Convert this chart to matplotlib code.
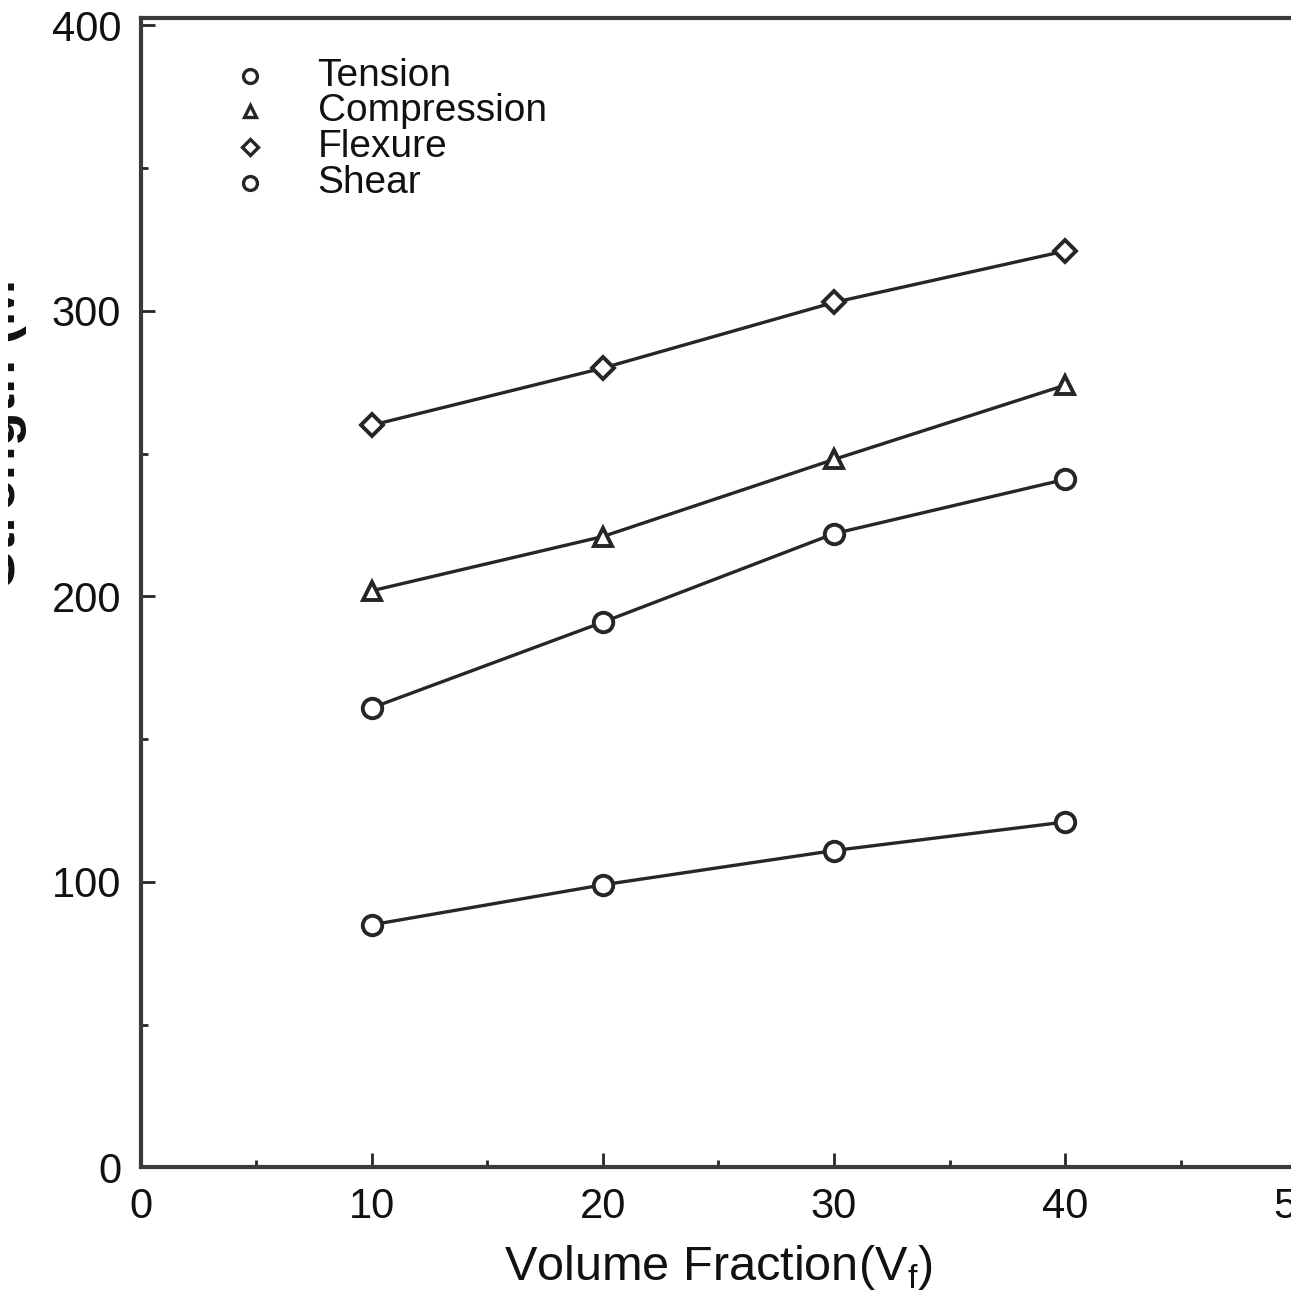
import matplotlib
matplotlib.use('Agg')
import matplotlib.pyplot as plt
from matplotlib.transforms import Bbox, TransformedBbox
from matplotlib.ticker import MultipleLocator

# data
vf = [10, 20, 30, 40]
tension = [161, 191, 222, 241]
compression = [202, 221, 248, 274]
flexure = [260, 280, 303, 321]
shear = [85, 99, 111, 121]

names = ['Tension', 'Compression', 'Flexure', 'Shear']
markers = ['o', '^', 'D', 'o']

ink = '#262626'
txt = '#111111'
plt.rcParams['font.family'] = ['Liberation Sans', 'DejaVu Sans']

W, H = 1291, 1290
fig = plt.figure(figsize=(W / 100, H / 100), dpi=100)
ax = fig.add_axes([0.109, 0.095, 0.895, 0.891])

for ys, m in zip([tension, compression, flexure, shear], markers):
    ms = {'o': 14, '^': 13, 'D': 11}[m]
    ax.plot(vf, ys, color=ink, lw=2.4, marker=m, ms=ms, mfc='white',
            mec=ink, mew=2.8)

ax.set_xlim(0, 50)
ax.set_ylim(0, 402.6)
ax.xaxis.set_major_locator(MultipleLocator(10))
ax.xaxis.set_minor_locator(MultipleLocator(5))
ax.yaxis.set_major_locator(MultipleLocator(100))
ax.yaxis.set_minor_locator(MultipleLocator(50))
ax.tick_params(which='major', direction='in', length=10, width=2, color=ink,
               labelsize=30, labelcolor=txt, pad=14)
ax.tick_params(which='minor', direction='in', length=5, width=2, color=ink)
for s in ax.spines.values():
    s.set_color('#3a3a3a')
    s.set_linewidth(3)

ax.set_xlabel('Volume Fraction(V$_\\mathregular{f}$)', fontsize=35, color=txt)
ax.xaxis.set_label_coords(0.5, -0.066)

# legend: markers only, no frame, rows placed in axes fraction
for i, (name, m) in enumerate(zip(names, markers)):
    yrow = 0.950 - 0.0312 * i
    ax.plot([0.0944], [yrow], transform=ax.transAxes, clip_on=False,
            ls='none', marker=m, ms={'o': 10, '^': 9, 'D': 8}[m],
            mfc='white', mec=ink, mew=2.4)
    ax.text(0.153, yrow, name, transform=ax.transAxes, fontsize=28,
            color=txt, va='center', ha='left')

# y label, cut off at the left edge of the picture
lab = fig.text(0.021, 0.545, 'Strength (MPa)', rotation=90, ha='right',
               va='bottom', fontsize=40, fontweight='bold', color=txt)
clip = TransformedBbox(Bbox([[8 / W, (H - 600) / H], [1, (H - 283) / H]]),
                       fig.transFigure)
lab.set_clip_box(clip)
lab.set_clip_on(True)

fig.savefig('out.png', dpi=100)
